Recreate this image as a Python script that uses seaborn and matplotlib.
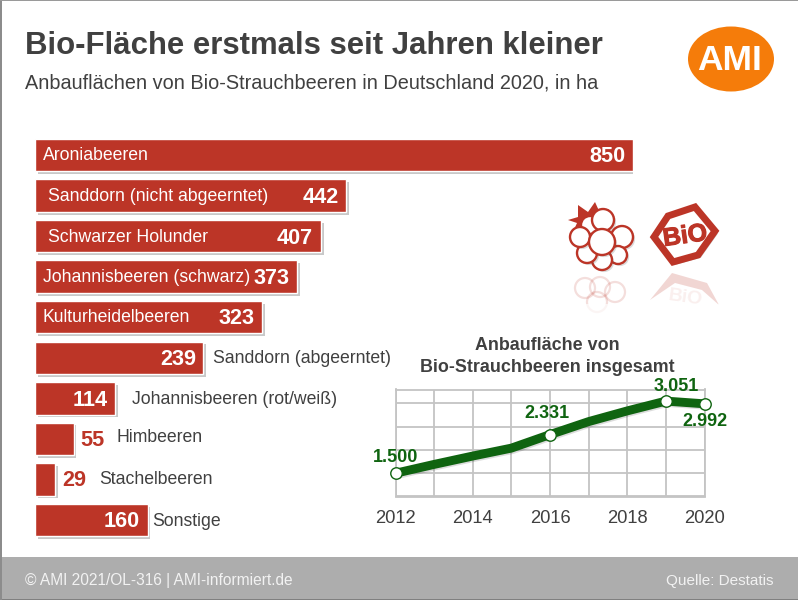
"""
Bio-Strauchbeeren: Anbauflaechen 2020 (bars) and total area 2012-2020 (line)
"""
import pandas as pd
import seaborn as sns
import matplotlib.pyplot as plt
import matplotlib.patheffects as pe
from matplotlib.patches import Circle, Ellipse, Polygon, Rectangle

categories = ['Aroniabeeren', 'Sanddorn (nicht abgeerntet)', 'Schwarzer Holunder',
              'Johannisbeeren (schwarz)', 'Kulturheidelbeeren', 'Sanddorn (abgeerntet)',
              'Johannisbeeren (rot/weiß)', 'Himbeeren', 'Stachelbeeren', 'Sonstige']
hectares = [850, 442, 407, 373, 323, 239, 114, 55, 29, 160]

years = [2012, 2013, 2014, 2015, 2016, 2017, 2018, 2019, 2020]
total_area = [1500, 1690, 1870, 2040, 2331, 2610, 2840, 3051, 2992]
year_ticks = [2012, 2014, 2016, 2018, 2020]
area_grid = [1000, 1500, 2000, 2500, 3000]

W, H = 798, 600
RED = '#bc3527'
DARK = '#404040'
GREEN = '#0f6410'

sns.set_theme(style='white')
plt.rcParams['font.family'] = ['Liberation Sans', 'DejaVu Sans']

fig = plt.figure(figsize=(W / 100, H / 100), dpi=100, facecolor='white')


def px_axes(x0, y0, x1, y1):
    # axes placed by pixel box, y measured from the top
    return fig.add_axes([x0 / W, 1 - y1 / H, (x1 - x0) / W, (y1 - y0) / H])


# background layer in pixel coordinates
bg = px_axes(0, 0, W, H)
bg.set_xlim(0, W)
bg.set_ylim(H, 0)
bg.axis('off')
bg.add_patch(Rectangle((0, 557), W, 43, color='#adadad', lw=0))
bg.add_patch(Rectangle((0, 599), W, 1, color='#808080', lw=0))
bg.add_patch(Rectangle((0, 0), 1.5, H, color='#8c8c8c', lw=0))
bg.add_patch(Rectangle((0, 0), W, 1, color='#9a9a9a', lw=0))

bg.text(25, 46, 'Bio-Fläche erstmals seit Jahren kleiner', fontsize=22.4,
        fontweight='bold', color=DARK, va='center')
bg.text(25, 83, 'Anbauflächen von Bio-Strauchbeeren in Deutschland 2020, in ha',
        fontsize=14.3, color=DARK, va='center')
bg.text(25, 581, '© AMI 2021/OL-316 | AMI-informiert.de', fontsize=11.2,
        color='#f2f2f2', va='center')
bg.text(773, 581, 'Quelle: Destatis', fontsize=11.0, color='#f2f2f2', va='center',
        ha='right')

# AMI logo
bg.add_patch(Ellipse((731, 59), 86, 65, color='#f57c0a', lw=0))
bg.text(730, 60, 'AMI', fontsize=25.5, fontweight='bold', color='white',
        ha='center', va='center')

# raspberry icon, outer berries first and the big middle one last
leaves = [(568, 220), (578, 217), (578, 205), (588, 212), (595, 202), (600, 213),
          (609, 209), (603, 218), (590, 222), (580, 228), (573, 232), (577, 223)]
bg.add_patch(Polygon(leaves, color=RED, lw=0))
berries = [(590, 225, 9), (603, 220, 11), (622, 237, 11), (618, 255, 9), (602, 260, 10),
           (587, 253, 10), (580, 237, 10), (602, 242, 13)]
berry_shadow = [pe.SimplePatchShadow(offset=(1.5, -1.5), alpha=0.2), pe.Normal()]
for cx, cy, r in berries:
    bg.add_patch(Circle((cx, cy), r, fc='white', ec=RED, lw=1.7, path_effects=berry_shadow))

# bio hexagon
hexagon = [(695, 207), (715, 231), (698, 255), (673, 262), (654, 237), (668, 216)]
bg.add_patch(Polygon(hexagon, closed=True, fc='white', ec=RED, lw=5, joinstyle='miter',
                     path_effects=[pe.SimplePatchShadow(offset=(2, -2), alpha=0.3), pe.Normal()]))
bg.text(685, 236, 'BiO', fontsize=18, fontweight='bold', color=RED, ha='center', va='center',
        rotation=8, path_effects=[pe.withStroke(linewidth=0.8, foreground=RED)])

# faded reflections below the icons
for cx, cy, r in [(585, 288, 10), (600, 287, 10), (615, 292, 10), (597, 302, 10)]:
    bg.add_patch(Circle((cx, cy), r, fc='none', ec=RED, lw=1.6, alpha=0.16))
bg.add_patch(Polygon([(650, 300), (672, 273), (707, 283), (719, 305), (702, 290), (675, 283)],
                     color=RED, lw=0, alpha=0.2))
bg.text(685, 298, 'BiO', fontsize=14, fontweight='bold', color=RED, alpha=0.08,
        ha='center', va='center', rotation=-8)
bg.add_patch(Rectangle((560, 304), 170, 16, color='white', lw=0, alpha=0.7))

# bar chart
bars = pd.DataFrame({'kultur': categories, 'ha': hectares})
ax = px_axes(35, 134.75, 633, 540.25)
sns.barplot(data=bars, y='kultur', x='ha', color=RED, saturation=1, width=0.8, ax=ax)
ax.set_xlim(0, 850)
ax.axis('off')
for p in ax.patches:
    p.set_path_effects([pe.SimplePatchShadow(offset=(2, -2), shadow_rgbFace='#777777', alpha=0.4),
                        pe.Normal()])

# label placement per bar: name x in px, name colour, right end of the value in px
name_x = [43, 48, 48, 43, 43, 213, 132, 117, 99, 152]
name_dy = [0, 0, 0, 0, 0, 0, 0, -2, 0, 1]
name_white = [True, True, True, True, True, False, False, False, False, False]
value_end = [625, 339, 313, 290, 255, 196, 108, 105, 86, 140]
for i, (name, val) in enumerate(zip(categories, hectares)):
    yc = 155.0 + 40.5 * i
    name_col = 'white' if name_white[i] else DARK
    val_col = RED if val < 100 else 'white'
    fig.text(name_x[i] / W, 1 - (yc + name_dy[i] + 1) / H, name, fontsize=12.7,
             color=name_col, va='center', zorder=5)
    fig.text(value_end[i] / W, 1 - (yc + 2) / H, str(val), fontsize=15.6,
             fontweight='bold', color=val_col, va='center', ha='right', zorder=5)

# line chart
line = pd.DataFrame({'jahr': years, 'flaeche': total_area})
ax2 = px_axes(395.5, 389.5, 704.5, 496.5)
ax2.patch.set_alpha(0)
sns.lineplot(data=line, x='jahr', y='flaeche', color=GREEN, linewidth=6.4, ax=ax2, zorder=3,
             solid_capstyle='round', solid_joinstyle='round',
             path_effects=[pe.SimpleLineShadow(offset=(1, -1), alpha=0.15), pe.Normal()])
ax2.set_xlim(2012, 2020)
ax2.set_ylim(1000, 3300)
ax2.set_xticks(years)
ax2.set_yticks(area_grid)
ax2.grid(True, color='#c4c4c4', lw=1.3)
ax2.set_axisbelow(True)
for s in ax2.spines.values():
    s.set_color('#c4c4c4')
    s.set_linewidth(1.3)
ax2.set_xlabel('')
ax2.set_ylabel('')
ax2.set_yticklabels([])
ax2.set_xticklabels([str(y) if y in year_ticks else '' for y in years])
ax2.tick_params(axis='x', labelsize=13.2, labelcolor=DARK, length=0, pad=10)
ax2.tick_params(axis='y', length=0)

marked = [2012, 2016, 2019, 2020]
marked_area = [total_area[years.index(y)] for y in marked]
sns.scatterplot(x=marked, y=marked_area, s=68, color='white', edgecolor=GREEN, linewidth=1.0,
                ax=ax2, zorder=4, clip_on=False, legend=False)
label_offset = [(0, 16), (-3, 21), (10, 15), (0, -18)]
for y, v, off in zip(marked, marked_area, label_offset):
    ax2.annotate(f'{v:,}'.replace(',', '.'), (y, v), xytext=off, textcoords='offset pixels',
                 ha='center', va='center', fontsize=13, fontweight='bold', color=GREEN,
                 annotation_clip=False, zorder=6)

bg.text(547, 345, 'Anbaufläche von', fontsize=12.9, fontweight='bold', color=DARK,
        ha='center', va='center')
bg.text(547, 367, 'Bio-Strauchbeeren insgesamt', fontsize=12.9, fontweight='bold', color=DARK,
        ha='center', va='center')

fig.savefig('out.png', dpi=100)
